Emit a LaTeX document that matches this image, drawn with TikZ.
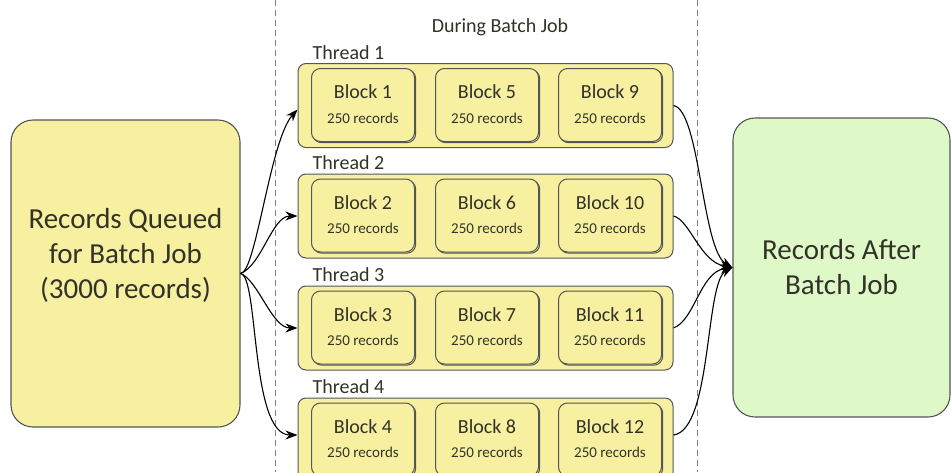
\documentclass[tikz,border=0pt]{standalone}
\usepackage{fontspec}
\setmainfont{Carlito}
\usetikzlibrary{arrows.meta,shadows}
\definecolor{yel}{RGB}{246,240,160}
\definecolor{grn}{RGB}{222,249,199}
\definecolor{edge}{RGB}{85,85,85}
\definecolor{txt}{RGB}{50,50,40}
\tikzset{
  bigbox/.style={draw=edge,line width=1.1pt,rounded corners=22pt,text=txt,align=center,
    font=\fontsize{29}{35}\selectfont},
  bigtext/.style={text=txt,align=center,font=\fontsize{29}{35}\selectfont,inner sep=0pt},
  thr/.style={draw=edge,fill=yel,line width=1pt,rounded corners=8pt,minimum width=375pt,minimum height=84pt,inner sep=0pt},
  blk/.style={draw=edge,fill=yel,line width=1pt,rounded corners=9pt,minimum width=103pt,minimum height=73pt,inner sep=0pt,
    copy shadow={shadow xshift=1.2pt,shadow yshift=-1.2pt},text=txt},
  blab/.style={text=txt,font=\fontsize{20}{24}\selectfont,inner sep=0pt},
  rlab/.style={text=txt,font=\fontsize{15}{18}\selectfont,inner sep=0pt},
  tlab/.style={text=txt,font=\fontsize{20}{24}\selectfont,inner sep=0pt,anchor=west},
  sep/.style={draw=gray,dash pattern=on 6pt off 4pt,line width=0.9pt},
  conn/.style={draw=black,line width=1.1pt,-{Stealth[length=12pt,width=9pt]}}
}
\begin{document}
\begin{tikzpicture}[x=1pt,y=-1pt]
\useasboundingbox (0,0) rectangle (951,472);
\coordinate (s1) at (275,0); \coordinate (s2) at (275,472);
\coordinate (s3) at (697,0); \coordinate (s4) at (697,472);
\draw[sep] (s1) -- (s2);
\draw[sep] (s3) -- (s4);
\node[bigbox,fill=yel,minimum width=229pt,minimum height=307pt] (L) at (125.5,273.5) {};
\node[bigtext] (Ltext) at ([yshift=18pt]L.center) {Records Queued\\for Batch Job\\(3000 records)};
\node[bigbox,fill=grn,minimum width=217pt,minimum height=299pt] (R) at (841.5,267.5) {Records After\\Batch Job};
\node[text=txt,font=\fontsize{20}{24}\selectfont,inner sep=0pt] (during) at (500,27) {During Batch Job};
\foreach \t/\y/\a/\b/\c in {1/105.5/1/5/9, 2/216/2/6/10, 3/328/3/7/11, 4/440/4/8/12}{
  \node[thr] (T\t) at (485.5,\y) {};
  \node[tlab] (TL\t) at ([xshift=15pt,yshift=10.5pt]T\t.north west) {Thread \t};
  \foreach \k/\x/\n in {a/363/\a, b/487/\b, c/610/\c}{
    \node[blk] (B\n) at (\x,\y-0.5) {};
    \node[blab] (BN\n) at ([yshift=13pt]B\n.center) {Block \n};
    \node[rlab] (BR\n) at ([yshift=-13pt]B\n.center) {250 records};
  }
}
\coordinate (lo) at ([yshift=0pt]L.east);
\draw[conn] (lo) .. controls (256,273) and (270,140) .. ([yshift=-4pt]T1.west);
\draw[conn] (lo) .. controls (262,265) and (272,216) .. (T2.west);
\draw[conn] (lo) .. controls (258,280) and (272,328) .. (T3.west);
\draw[conn] (lo) .. controls (259,276) and (250,435) .. ([yshift=5pt]T4.west);
\draw[conn] (T1.east) .. controls (700,110) and (702,250) .. (R.west);
\draw[conn] (T2.east) .. controls (690,220) and (700,262) .. (R.west);
\draw[conn] (T3.east) .. controls (695,320) and (700,272) .. (R.west);
\draw[conn] ([yshift=5pt]T4.east) .. controls (712,430) and (705,282) .. (R.west);
\end{tikzpicture}
\end{document}
